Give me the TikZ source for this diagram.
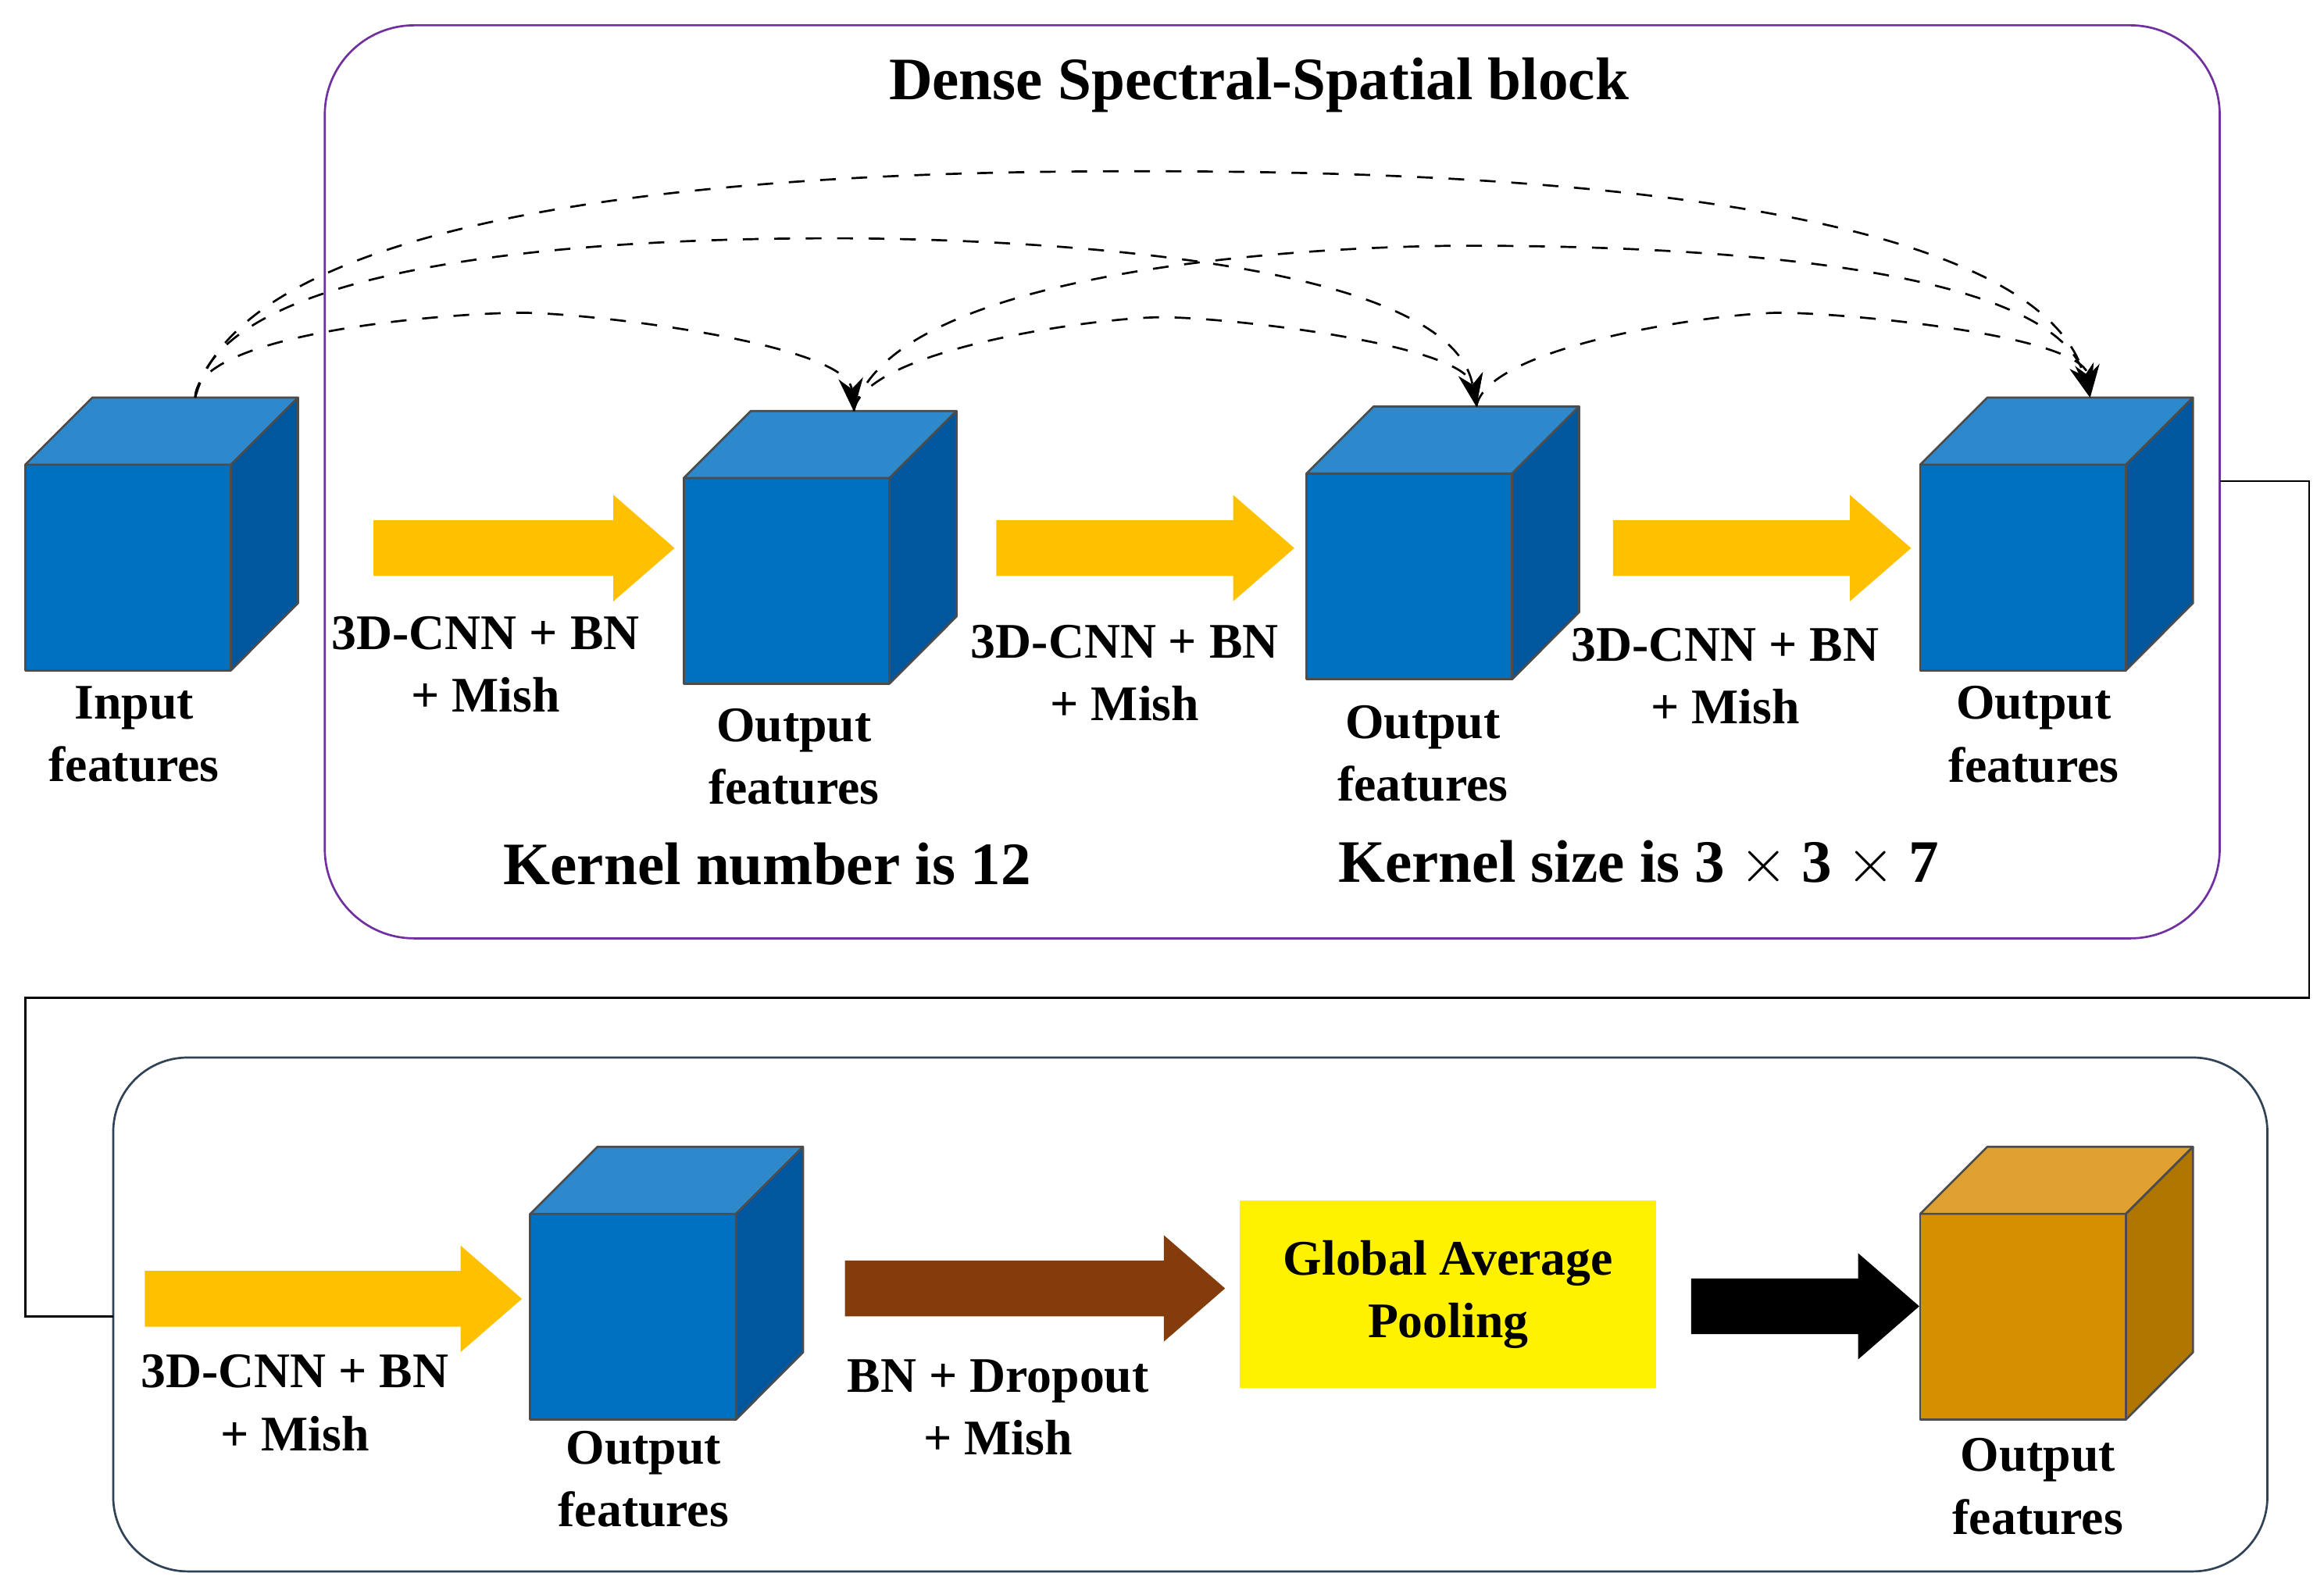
\documentclass[tikz,border=0pt]{standalone}
\usepackage{fontspec}
\setmainfont{Liberation Serif}
\usetikzlibrary{positioning, arrows.meta, shapes.arrows}
\definecolor{front_blue}{HTML}{0070C0}
\definecolor{top_blue}{HTML}{2E89CC}
\definecolor{side_blue}{HTML}{00579E}
\definecolor{front_gold}{HTML}{D68F00}
\definecolor{top_gold}{HTML}{DFA232}
\definecolor{side_gold}{HTML}{B07600}
\definecolor{arrow_yellow}{HTML}{FFC000}
\definecolor{arrow_brown}{HTML}{843C0C}
\definecolor{box_purple}{HTML}{7030A0}
\definecolor{box_navy}{HTML}{2F4256}

\begin{document}
\begin{tikzpicture}[x=0.01cm, y=-0.01cm,
                    face/.style={draw=black!70, line width=0.4pt, line join=round},
                    cube/.style={face, fill=front_blue, minimum size=1.38cm, inner sep=0pt, outer sep=0pt},
                    flow/.style={single arrow, minimum width=0.7cm, inner sep=0.18cm, single arrow head extend=0.17cm,
                                 single arrow tip angle=82, draw=none},
                    caption/.style={font=\bfseries\fontsize{9.5}{12}\selectfont, align=center},
                    skip/.style={-{Stealth[length=2.2mm]}, dashed, thin}]
  \useasboundingbox (0,0) rectangle (1560,1068);

  % Frames
  \draw[box_purple, rounded corners=0.6cm] (218,17) rectangle (1490,630);
  \draw[box_navy, rounded corners=0.5cm] (76,710) rectangle (1522,1055);
  \coordinate (out_top) at (1490,323);
  \coordinate (in_bot) at (76,884);
  \draw[black, thin] (out_top) -- ++(60,0) |- (17,670) |- (in_bot);

  % Cubes
  \foreach \n/\x/\y/\f/\t/\s in {c1/86/381/front_blue/top_blue/side_blue,
                                 c2/528/390/front_blue/top_blue/side_blue,
                                 c3/946/387/front_blue/top_blue/side_blue,
                                 c4/1358/381/front_blue/top_blue/side_blue,
                                 c5/425/884/front_blue/top_blue/side_blue,
                                 c6/1358/884/front_gold/top_gold/side_gold}{
    \node[cube, fill=\f] (\n) at (\x,\y) {};
    \draw[face, fill=\t] (\n.north west) -- ++(45,-45) -- ++(138,0) -- (\n.north east) -- cycle;
    \draw[face, fill=\s] (\n.north east) -- ++(45,-45) -- ++(0,138) -- (\n.south east) -- cycle;
    \coordinate (\n top) at ([xshift=0.45cm, yshift=0.45cm]\n.north);
  }

  % Flow arrows
  \node[flow, fill=arrow_yellow, minimum height=2.02cm] (a1) at (341,368) {};
  \node[flow, fill=arrow_yellow, minimum height=2.0cm] (a2) at (758,368) {};
  \node[flow, fill=arrow_yellow, minimum height=2.0cm] (a3) at (1172,368) {};
  \node[flow, fill=arrow_yellow, minimum height=2.53cm] (a4) at (213,872) {};
  \node[flow, fill=arrow_brown, minimum height=2.55cm] (a5) at (684,865) {};
  \node[flow, fill=black, minimum height=1.53cm] (a6) at (1201,877) {};

  \node[fill=yellow, minimum width=2.79cm, minimum height=1.26cm, caption] (gap) at (972,869) {Global Average\\Pooling};

  % Dense skip connections
  \draw[skip] (c1top) to[out=90, in=180, looseness=0.5] (350,210) to[out=0, in=95, looseness=0.5] (c2top);
  \draw[skip] (c1top) to[out=80, in=180, looseness=0.6] (560,160) to[out=0, in=100, looseness=0.6] (c3top);
  \draw[skip] (c1top) to[out=75, in=180, looseness=0.6] (765,115) to[out=0, in=105, looseness=0.6] (c4top);
  \draw[skip] (c2top) to[out=80, in=180, looseness=0.5] (780,213) to[out=0, in=100, looseness=0.5] (c3top);
  \draw[skip] (c2top) to[out=75, in=180, looseness=0.6] (985,165) to[out=0, in=105, looseness=0.6] (c4top);
  \draw[skip] (c3top) to[out=80, in=180, looseness=0.5] (1195,210) to[out=0, in=95, looseness=0.5] (c4top);

  % Labels
  \node[caption] at (90,493) {Input\\features};
  \node[caption] at (533,508) {Output\\features};
  \node[caption] at (955,506) {Output\\features};
  \node[caption] at (1365,493) {Output\\features};
  \node[caption] at (432,993) {Output\\features};
  \node[caption] at (1368,998) {Output\\features};
  \node[caption] at (326,446) {3D-CNN + BN\\+ Mish};
  \node[caption] at (755,452) {3D-CNN + BN\\+ Mish};
  \node[caption] at (1158,454) {3D-CNN + BN\\+ Mish};
  \node[caption] at (198,942) {3D-CNN + BN\\+ Mish};
  \node[caption] at (670,945) {BN + Dropout\\+ Mish};
  \node[font=\bfseries\fontsize{11.5}{14}\selectfont] at (845,57) {Dense Spectral-Spatial block};
  \node[font=\bfseries\fontsize{11.5}{14}\selectfont] at (515,580) {Kernel number is 12};
  \node[font=\bfseries\fontsize{11.5}{14}\selectfont] at (1100,580) {Kernel size is $\mathbf{3\times 3\times 7}$};
\end{tikzpicture}
\end{document}
